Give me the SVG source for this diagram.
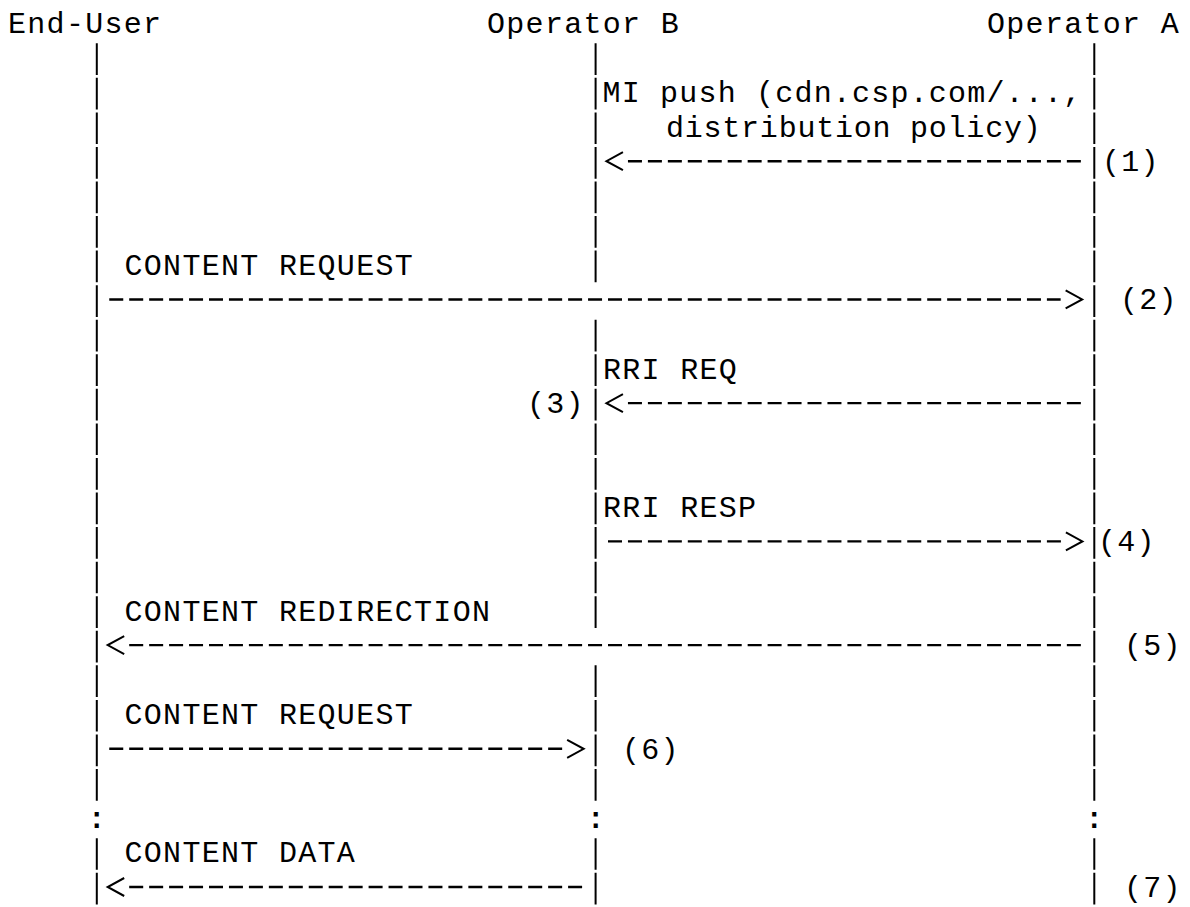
<svg xmlns="http://www.w3.org/2000/svg" width="1190" height="907" viewBox="0 0 1190 907">
<defs>
<style>
.t{font-family:"Liberation Mono","DejaVu Sans Mono",monospace;font-size:30px;letter-spacing:1.3px;fill:#000;white-space:pre}
.c{font-family:"Liberation Mono","DejaVu Sans Mono",monospace;font-size:29px;font-weight:bold;fill:#000;text-anchor:middle}
.life{stroke:#000;stroke-width:2;fill:none;stroke-dasharray:31.7 2.86}
.arr{stroke:#000;stroke-width:2.4;fill:none;stroke-dasharray:14 5.95}
.l{marker-start:url(#chev)}
.r{marker-end:url(#chev)}
</style>
<marker id="chev" markerUnits="userSpaceOnUse" orient="auto-start-reverse" refX="0" refY="0" markerWidth="30" markerHeight="24" style="overflow:visible">
<path d="M5,-9 L21.5,0 L5,9" fill="none" stroke="#000" stroke-width="2"/>
</marker>
</defs>
<rect width="1190" height="907" fill="#fff"/>

<g id="end-user">
<text class="t" x="8" y="33">End-User</text>
<line class="life" x1="96.8" y1="43.26" x2="96.8" y2="800.72"/>
<line class="life" x1="96.8" y1="838.14" x2="96.8" y2="904.4"/>
<text class="c" x="96.8" y="827.88">:</text>
</g>

<g id="operator-b">
<text class="t" x="487" y="33">Operator B</text>
<line class="life" x1="595.6" y1="43.26" x2="595.6" y2="282.32"/>
<line class="life" x1="595.6" y1="319.74" x2="595.6" y2="627.92"/>
<line class="life" x1="595.6" y1="665.34" x2="595.6" y2="800.72"/>
<line class="life" x1="595.6" y1="838.14" x2="595.6" y2="904.4"/>
<text class="c" x="595.6" y="827.88">:</text>
</g>

<g id="operator-a">
<text class="t" x="987" y="33">Operator A</text>
<line class="life" x1="1094.3" y1="43.26" x2="1094.3" y2="800.72"/>
<line class="life" x1="1094.3" y1="838.14" x2="1094.3" y2="904.4"/>
<text class="c" x="1094.3" y="827.88">:</text>
</g>

<g id="connectors">
<line class="arr l" x1="627.95" y1="161.24" x2="1080.85" y2="161.24"/>
<line class="arr r" x1="109.25" y1="299.48" x2="1060.65" y2="299.48"/>
<line class="arr l" x1="627.95" y1="403.16" x2="1080.85" y2="403.16"/>
<line class="arr r" x1="608" y1="541.4" x2="1060.9" y2="541.4"/>
<line class="arr l" x1="129.2" y1="645.08" x2="1080.85" y2="645.08"/>
<line class="arr r" x1="109.25" y1="748.76" x2="562.15" y2="748.76"/>
<line class="arr l" x1="129.2" y1="887" x2="582.1" y2="887"/>
</g>

<g id="labels">
<text class="t" x="602.5" y="102.12" textLength="480" lengthAdjust="spacing">MI push (cdn.csp.com/...,</text>
<text class="t" x="666" y="136.68" textLength="376" lengthAdjust="spacing">distribution policy)</text>
<text class="t" x="1102" y="171.24">(1)</text>
<text class="t" x="124.5" y="274.92">CONTENT REQUEST</text>
<text class="t" x="1120" y="309.48">(2)</text>
<text class="t" x="603" y="378.6">RRI REQ</text>
<text class="t" x="527" y="413.16">(3)</text>
<text class="t" x="603" y="516.84">RRI RESP</text>
<text class="t" x="1098" y="551.4">(4)</text>
<text class="t" x="124.5" y="620.52">CONTENT REDIRECTION</text>
<text class="t" x="1124" y="655.08">(5)</text>
<text class="t" x="124.5" y="724.2">CONTENT REQUEST</text>
<text class="t" x="622" y="758.76">(6)</text>
<text class="t" x="124.5" y="862.44">CONTENT DATA</text>
<text class="t" x="1124" y="897">(7)</text>
</g>
</svg>
